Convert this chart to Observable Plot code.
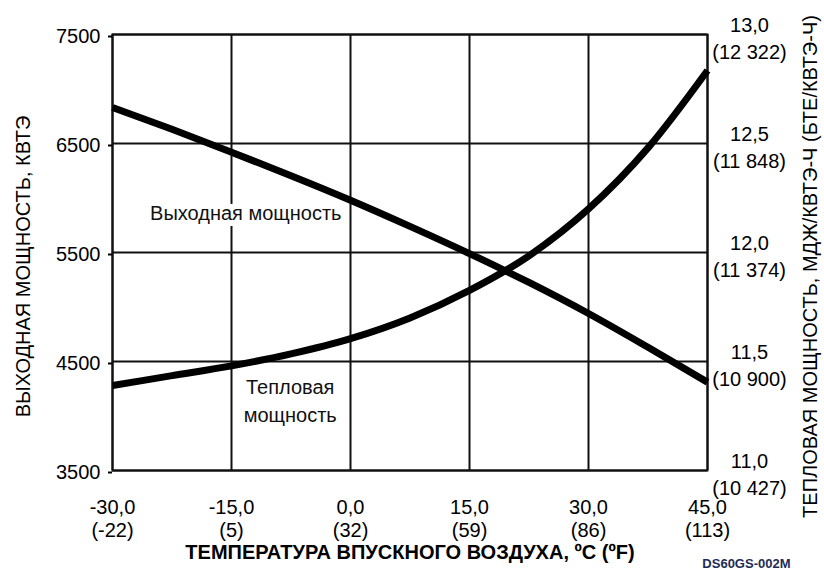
<!DOCTYPE html>
<html>
<head>
<meta charset="utf-8">
<script src="https://cdn.jsdelivr.net/npm/d3@7"></script>
<script src="https://cdn.jsdelivr.net/npm/@observablehq/plot@0.6"></script>
<style>
  html, body { margin: 0; padding: 0; background: #fff; }
</style>
</head>
<body>
<div id="chart"></div>
<script>
// Inlet air temperature, °C
const temps = [-30, -22.5, -15, -7.5, 0, 7.5, 15, 22.5, 30, 37.5, 45];
// Output power, kWe (left axis)
const outputKW = [6830, 6630, 6420, 6205, 5980, 5740, 5490, 5225, 4940, 4630, 4310];
// Heat rate, MJ/kWe-h (right axis)
const heatRateMJ = [11.39, 11.435, 11.48, 11.535, 11.605, 11.70, 11.826, 11.985, 12.20, 12.48, 12.835];

// Tick values / labels
const xTicks = [-30, -15, 0, 15, 30, 45];
const xTicksF = ["-22", "5", "32", "59", "86", "113"];
const yLeftTicks = [3500, 4500, 5500, 6500, 7500];
const yRightTicks = [11.0, 11.5, 12.0, 12.5, 13.0];
const yRightBtu = ["10 427", "10 900", "11 374", "11 848", "12 322"];

// In-chart series labels
const seriesLabels = ["Выходная мощность", "Тепловая\nмощность"];
const seriesLabelTemp = [-13.2, -7.6];
const seriesLabelKW = [5876, 4160];

const xTitle = "ТЕМПЕРАТУРА ВПУСКНОГО ВОЗДУХА, ºC (ºF)";
const yLeftTitle = "ВЫХОДНАЯ МОЩНОСТЬ, КВТЭ";
const yRightTitle = "ТЕПЛОВАЯ МОЩНОСТЬ, МДЖ/КВТЭ-Ч (БТЕ/КВТЭ-Ч)";
const watermark = "DS60GS-002M";

// right axis (11..13) mapped onto left axis (3500..7500)
const hrToKW = hr => 3500 + (hr - 11) * 2000;
const comma1 = v => v.toFixed(1).replace(".", ",");

const power = temps.map((t, i) => ({t, v: outputKW[i]}));
const heat = temps.map((t, i) => ({t, v: hrToKW(heatRateMJ[i])}));
const labels = seriesLabels.map((s, i) => ({s, t: seriesLabelTemp[i], v: seriesLabelKW[i]}));

const font = "Arial, 'Liberation Sans', sans-serif";
const fs = 20;

const chart = Plot.plot({
  width: 824,
  height: 569,
  marginLeft: 112,
  marginRight: 117,
  marginTop: 34,
  marginBottom: 99,
  style: {fontFamily: font, fontSize: fs + "px", color: "#000", background: "#fff"},
  x: {domain: [-30, 45], axis: null},
  y: {domain: [3500, 7500], axis: null},
  marks: [
    Plot.gridX(xTicks, {stroke: "#111", strokeOpacity: 1, strokeWidth: 2}),
    Plot.gridY(yLeftTicks, {stroke: "#111", strokeOpacity: 1, strokeWidth: 2}),
    Plot.frame({stroke: "#111", strokeWidth: 2}),
    Plot.axisY(yLeftTicks, {
      anchor: "left", tickSize: 4, tickPadding: 8, strokeWidth: 2,
      tickFormat: d => String(d), label: null, dy: 2, fontSize: fs
    }),
    Plot.text(yRightTicks, {
      y: d => hrToKW(d),
      text: (d, i) => `${comma1(d)}\n(${yRightBtu[i]})`,
      frameAnchor: "right", dx: 42, dy: 2,
      textAnchor: "middle", lineAnchor: "middle", lineHeight: 1.35, fontSize: fs
    }),
    Plot.text(xTicks, {
      x: d => d,
      text: (d, i) => `${comma1(d)}\n(${xTicksF[i]})`,
      frameAnchor: "bottom", dy: 48,
      textAnchor: "middle", lineAnchor: "middle", lineHeight: 1.15, fontSize: fs
    }),
    Plot.text([xTitle], {
      text: d => d, frameAnchor: "bottom", dy: 82,
      fontWeight: "bold", fontSize: fs, lineAnchor: "middle", textAnchor: "middle"
    }),
    Plot.text([yLeftTitle], {
      text: d => d, frameAnchor: "left", dx: -89, dy: 14, rotate: -90,
      fontSize: fs, lineAnchor: "middle", textAnchor: "middle"
    }),
    Plot.text([yRightTitle], {
      text: d => d, frameAnchor: "right", dx: 103, dy: 14, rotate: -90,
      fontSize: fs, lineAnchor: "middle", textAnchor: "middle"
    }),
    Plot.text(labels, {
      x: "t", y: "v", text: "s",
      fontSize: fs, lineHeight: 1.4, lineAnchor: "middle", textAnchor: "middle",
      stroke: "#fff", strokeWidth: 12, fill: "#111"
    }),
    Plot.line(power, {x: "t", y: "v", curve: "monotone-x", stroke: "#000", strokeWidth: 7, strokeLinecap: "butt"}),
    Plot.line(heat, {x: "t", y: "v", curve: "monotone-x", stroke: "#000", strokeWidth: 7, strokeLinecap: "butt"}),
    Plot.text([watermark], {
      text: d => d, frameAnchor: "bottom-right", dx: 83, dy: 97,
      textAnchor: "end", lineAnchor: "bottom", fontSize: 13, fontWeight: "bold",
      fill: "#1d2c55"
    })
  ]
});

document.getElementById("chart").appendChild(chart);
</script>
</body>
</html>
